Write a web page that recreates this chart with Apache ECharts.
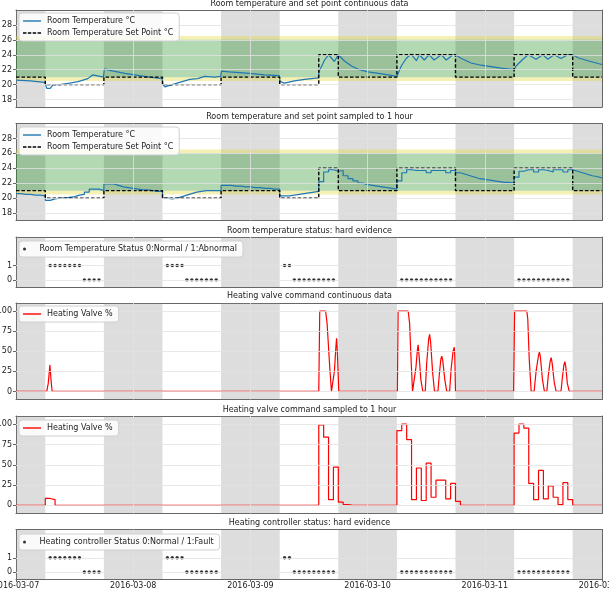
<!DOCTYPE html>
<html><head><meta charset="utf-8">
<script src="https://cdn.jsdelivr.net/npm/echarts@6/dist/echarts.min.js"></script>
<style>html,body{margin:0;padding:0;background:#fff}#c{width:609px;height:596px}</style>
</head><body><div id="c"></div>
<script>
// ---------- DATA ----------
const dayLabels = ['2016-03-07','2016-03-08','2016-03-09','2016-03-10','2016-03-11','2016-03-12'];
const dayTickHours = [0, 24, 48, 72, 96, 120];
const nightBands = [[0,6],[18,30],[42,54],[66,78],[90,102],[114,120]];
const comfortOuter = [20.5, 26.5];
const comfortInner = [21, 26];
const tempTicks = [18,20,22,24,26,28];
const valveTicks = [0,25,50,75,100];
const statusTicks = [0,1];

// continuous room temperature [hour since 2016-03-07 00:00, °C]
const roomTempContinuous = [
 [0,20.6],[2.9,20.5],[5.9,20.3],[6.3,19.5],[6.6,19.3],[7.0,19.5],[7.6,20.0],[9.0,20.0],[11.0,20.2],[12.7,20.4],
 [14.7,20.8],[15.7,21.3],[16.1,21.4],[17.2,21.1],[17.9,21.0],[18.1,22.1],[19.2,21.9],[22.3,21.5],[25.3,21.2],[27.4,21.0],
 [29.9,20.8],[30.1,20.0],[30.5,19.7],[31.5,19.9],[33.5,20.3],[35.6,20.7],[37.2,20.8],[38.6,21.1],[40.7,21.0],[41.9,21.1],
 [42.1,21.8],[43.7,21.7],[47.8,21.5],[50.9,21.3],[53.9,21.2],[54.1,20.4],[55.0,20.2],[57.0,20.5],[59.1,20.7],[61.9,20.9],
 [62.1,21.8],[63.2,23.3],[64.0,24.0],[64.4,24.0],[65.2,23.1],[66.0,24.0],[67.2,23.2],[68.7,22.5],[70.3,22.0],[72.1,21.7],
 [74.2,21.5],[76.2,21.3],[78.0,21.1],[78.9,22.5],[79.9,23.5],[80.9,24.1],[82.0,23.2],[82.6,24.0],[83.6,23.3],[84.6,24.0],
 [85.6,23.3],[87.1,24.0],[88.1,23.3],[89.5,24.0],[90.0,24.0],[91.2,23.5],[93.2,22.9],[95.2,22.6],[97.3,22.4],[99.3,22.2],
 [102.0,22.0],[102.4,22.5],[103.8,23.4],[104.9,24.0],[106.5,23.4],[107.9,24.0],[108.9,23.4],[110.2,24.0],[111.6,23.5],[113.0,24.0],
 [114.0,24.0],[115.1,23.6],[117.1,23.2],[119.4,22.8],[120,22.7]
];
// set point schedule: change hours and values
const setpointHours  = [0,6,18,30,42,54,62,66,78,90,102,114,120];
const setpointValues = [21,20,21,20,21,20,24,21,24,21,24,21,21];
// hourly room temperature (hour 0..119)
const roomTempHourly = [
 20.6,20.5,20.5,20.4,20.4,20.3,19.7,19.9,20.0,20.0,20.1,20.2,20.4,20.5,20.8,21.2,21.2,21.0,21.9,21.9,21.7,21.5,21.4,21.3,
 21.2,21.1,21.1,21.0,20.9,20.9,20.0,19.9,20.0,20.2,20.4,20.6,20.8,20.9,21.0,21.0,21.0,21.0,21.7,21.7,21.6,21.6,21.5,21.5,
 21.4,21.4,21.3,21.3,21.2,21.2,20.3,20.3,20.4,20.5,20.6,20.7,20.8,20.9,22.2,23.5,23.8,23.6,23.7,23.0,22.6,22.3,22.0,21.8,
 21.7,21.6,21.5,21.4,21.3,21.2,22.3,23.4,23.8,23.7,23.7,23.7,23.4,23.7,23.7,23.7,23.4,23.7,23.4,23.2,23.0,22.8,22.6,22.5,
 22.4,22.3,22.2,22.1,22.1,22.0,22.8,23.6,23.8,23.8,23.5,23.8,23.7,23.5,23.8,23.8,23.5,23.8,23.6,23.4,23.2,23.0,22.9,22.7
];
// status hard evidence (daytime hours)
const statusHours = [7,8,9,10,11,12,13,14,15,16,17, 31,32,33,34,35,36,37,38,39,40,41,
 55,56,57,58,59,60,61,62,63,64,65, 79,80,81,82,83,84,85,86,87,88,89, 103,104,105,106,107,108,109,110,111,112,113];
const roomStatus = [1,1,1,1,1,1,1,0,0,0,0, 1,1,1,1,0,0,0,0,0,0,0,
 1,1,0,0,0,0,0,0,0,0,0, 0,0,0,0,0,0,0,0,0,0,0, 0,0,0,0,0,0,0,0,0,0,0];
const controllerStatus = [1,1,1,1,1,1,1,0,0,0,0, 1,1,1,1,0,0,0,0,0,0,0,
 1,1,0,0,0,0,0,0,0,0,0, 0,0,0,0,0,0,0,0,0,0,0, 0,0,0,0,0,0,0,0,0,0,0];
// continuous heating valve [hour, %]
const valveContinuous = [
 [0,0],[6.3,0],[6.6,10],[6.95,33],[7.2,12],[7.4,0],
 [62.0,0],[62.2,100],[63.4,100],[63.7,85],[64.0,55],[64.3,25],[64.6,0],[64.9,0],[65.2,25],[65.5,55],[65.65,66],[65.8,50],[66.1,0],
 [78.1,0],[78.25,100],[80.3,100],[80.6,85],[80.9,40],[81.2,0],[81.6,0],[81.9,30],[82.2,52],[82.35,58],[82.6,40],[82.9,15],[83.3,0],
 [83.8,0],[84.1,35],[84.5,65],[84.7,71],[84.9,62],[85.3,25],[85.7,0],
 [86.4,0],[86.7,22],[87.0,40],[87.2,44],[87.4,38],[87.8,15],[88.2,0],
 [88.8,0],[89.1,28],[89.5,50],[89.75,55],[89.85,45],[90.0,0],
 [101.9,0],[102.1,100],[104.6,100],[104.8,90],[105.1,40],[105.5,0],
 [106.1,0],[106.5,25],[107.0,45],[107.2,49],[107.4,42],[107.8,15],[108.2,0],
 [108.7,0],[109.0,20],[109.4,38],[109.6,42],[109.8,35],[110.2,12],[110.6,0],
 [111.6,0],[111.9,18],[112.2,33],[112.4,37],[112.6,30],[112.9,10],[113.3,0],
 [120,0]
];
// hourly heating valve (hour 0..119)
const valveHourly = [
 0,0,0,0,0,0,8.5,7,0,0,0,0,0,0,0,0,0,0,0,0,0,0,0,0,
 0,0,0,0,0,0,0,0,0,0,0,0,0,0,0,0,0,0,0,0,0,0,0,0,
 0,0,0,0,0,0,0,0,0,0,0,0,0,0,99,84,7,47,4,1,0,0,0,0,
 0,0,0,0,0,0,92,100,81,7,46,6,52,10,31,31,8,27,5,0,0,0,0,0,
 0,0,0,0,0,0,89,100,95,27,7,43,8,24,10,1,28,7,0,0,0,0,0,0
];

// ---------- BUILD ----------
const FONT = '"DejaVu Sans", sans-serif';
const FRAME = '#666';
const TXT = '#222';
const stepPairs = (hours, vals) => hours.map((h, i) => [h, vals[i]]);
const hourlyPairs = vals => vals.map((v, h) => [h, v]).concat([[vals.length, vals[vals.length - 1]]]);

const panels = [
 {top: 10, height: 97, title: 'Room temperature and set point continuous data', titleY: 4, ymin: 17, ymax: 30, ticks: tempTicks, legendTop: 13, comfort: true},
 {top: 123.5, height: 97, title: 'Room temperature and set point sampled to 1 hour', titleY: 117, ymin: 17, ymax: 30, ticks: tempTicks, legendTop: 127, comfort: true},
 {top: 237, height: 50, title: 'Room temperature status: hard evidence', titleY: 230.5, ymin: -0.5, ymax: 3, ticks: statusTicks, legendTop: 241},
 {top: 303, height: 96.5, title: 'Heating valve command continuous data', titleY: 296, ymin: -10, ymax: 110, ticks: valveTicks, legendTop: 306},
 {top: 416, height: 97.5, title: 'Heating valve command sampled to 1 hour', titleY: 409.5, ymin: -10, ymax: 110, ticks: valveTicks, legendTop: 420},
 {top: 529.5, height: 49.5, title: 'Heating controller status: hard evidence', titleY: 523, ymin: -0.5, ymax: 3, ticks: statusTicks, legendTop: 534}
];

const grid = [], xAxis = [], yAxis = [], series = [], legend = [], graphic = [];
const nightColor = 'rgba(128,128,128,0.27)';
const yellowColor = 'rgba(225,215,40,0.35)';
const greenColor = 'rgba(0,128,0,0.30)';

panels.forEach((p, i) => {
  grid.push({left: 16, right: 7, top: p.top, height: p.height, containLabel: false, outerBoundsMode: 'none'});
  const last = i === panels.length - 1;
  xAxis.push({type: 'value', gridIndex: i, min: 0, max: 120, interval: 24, position: 'bottom',
    axisLine: {show: true, onZero: false, lineStyle: {color: FRAME, width: 1}},
    axisTick: {show: last, length: 3, lineStyle: {color: FRAME}},
    axisLabel: {show: last, margin: 3, fontSize: 8, fontFamily: FONT, color: TXT, hideOverlap: false,
      showMinLabel: true, showMaxLabel: true,
      formatter: v => dayLabels[dayTickHours.indexOf(v)] || ''},
    splitLine: {show: false}});
  xAxis.push({type: 'value', gridIndex: i, min: 0, max: 120, position: 'top',
    axisLine: {show: true, onZero: false, lineStyle: {color: FRAME, width: 1}},
    axisTick: {show: false}, axisLabel: {show: false}, splitLine: {show: false}});
  yAxis.push({type: 'value', gridIndex: i, min: p.ymin, max: p.ymax, position: 'left',
    axisLine: {show: true, onZero: false, lineStyle: {color: FRAME, width: 1}},
    axisTick: {show: true, length: 3, customValues: p.ticks, lineStyle: {color: FRAME}},
    axisLabel: {customValues: p.ticks, margin: 4, fontSize: 8, fontFamily: FONT, color: TXT},
    splitLine: {show: false}});
  yAxis.push({type: 'value', gridIndex: i, min: p.ymin, max: p.ymax, position: 'right',
    axisLine: {show: true, onZero: false, lineStyle: {color: FRAME, width: 1}},
    axisTick: {show: false}, axisLabel: {show: false}, splitLine: {show: false}});

  const areas = nightBands.map(b => [{xAxis: b[0], itemStyle: {color: nightColor}}, {xAxis: b[1]}]);
  if (p.comfort) {
    areas.push([{yAxis: comfortOuter[0], itemStyle: {color: yellowColor}}, {yAxis: comfortInner[0]}]);
    areas.push([{yAxis: comfortInner[1], itemStyle: {color: yellowColor}}, {yAxis: comfortOuter[1]}]);
    areas.push([{yAxis: comfortInner[0], itemStyle: {color: greenColor}}, {yAxis: comfortInner[1]}]);
  }
  const lines = p.ticks.map(v => ({yAxis: v})).concat(dayTickHours.slice(1, -1).map(h => ({xAxis: h})));
  series.push({type: 'line', name: 'bands' + i, xAxisIndex: 2 * i, yAxisIndex: 2 * i, data: [], silent: true, z: 1,
    symbol: 'none',
    markArea: {silent: true, data: areas},
    markLine: {silent: true, symbol: ['none', 'none'], label: {show: false},
      lineStyle: {color: '#e2e2e2', width: 0.8, type: 'solid'}, emphasis: {disabled: true}, data: lines}});

  graphic.push({type: 'text', x: 309.5, y: p.titleY,
    style: {text: p.title, fill: TXT, font: '8px "DejaVu Sans"', align: 'center', verticalAlign: 'middle',
      textAlign: 'center', textVerticalAlign: 'middle'}});
});

const lineBase = (i, name, data, color, extra) => Object.assign({
  type: 'line', name, xAxisIndex: 2 * i, yAxisIndex: 2 * i, data, symbol: 'none', showSymbol: false,
  z: 3, silent: true, lineStyle: {color, width: 1.2}, itemStyle: {color}}, extra || {});

const tName = 'Room Temperature °C', sName = 'Room Temperature Set Point °C', vName = 'Heating Valve %';
const rsName = 'Room Temperature Status 0:Normal / 1:Abnormal', csName = 'Heating controller Status 0:Normal / 1:Fault';
const dashed = {color: '#000', width: 1.4, type: [3.5, 2]};

series.push(lineBase(0, tName, roomTempContinuous, '#1f77b4'));
series.push(lineBase(0, sName, stepPairs(setpointHours, setpointValues), '#000', {step: 'end', z: 4, lineStyle: dashed}));
series.push(lineBase(1, tName, hourlyPairs(roomTempHourly), '#1f77b4', {step: 'end'}));
series.push(lineBase(1, sName, stepPairs(setpointHours, setpointValues), '#000', {step: 'end', z: 4, lineStyle: dashed}));
series.push({type: 'scatter', name: rsName, xAxisIndex: 4, yAxisIndex: 4, data: stepPairs(statusHours, roomStatus),
  symbol: 'circle', symbolSize: 3.4, itemStyle: {color: '#000'}, z: 3, silent: true});
series.push(lineBase(3, vName, valveContinuous, '#ff0000'));
series.push(lineBase(4, vName, hourlyPairs(valveHourly), '#ff0000', {step: 'end'}));
series.push({type: 'scatter', name: csName, xAxisIndex: 10, yAxisIndex: 10, data: stepPairs(statusHours, controllerStatus),
  symbol: 'circle', symbolSize: 3.4, itemStyle: {color: '#000'}, z: 3, silent: true});

const SOLID_ICON = 'path://M0,0h18v1.4h-18z';
const DASH_ICON = 'path://M0,0h3.4v1.4h-3.4z M4.8,0h3.4v1.4h-3.4z M9.6,0h3.4v1.4h-3.4z M14.4,0h3.4v1.4h-3.4z';
const legendBase = (top, items, dot) => ({
  left: 19, top, orient: 'vertical', data: items, itemWidth: 18, itemHeight: dot ? 3 : 8, itemGap: 4,
  padding: dot ? [4, 6, 4, 4] : [4, 6, 4, 4], backgroundColor: 'rgba(255,255,255,0.85)', borderColor: '#d0d0d0', borderWidth: 1,
  borderRadius: 3, selectedMode: false,
  textStyle: {fontSize: 8, fontFamily: FONT, color: TXT, padding: [0, 0, 0, 1]}, z: 10});
const tempLegend = [{name: tName, icon: SOLID_ICON}, {name: sName, icon: DASH_ICON}];
legend.push(legendBase(panels[0].legendTop, tempLegend));
legend.push(legendBase(panels[1].legendTop, tempLegend));
legend.push(legendBase(panels[2].legendTop, [{name: rsName, icon: 'circle'}], true));
legend.push(legendBase(panels[3].legendTop, [{name: vName, icon: SOLID_ICON}]));
legend.push(legendBase(panels[4].legendTop, [{name: vName, icon: SOLID_ICON}]));
legend.push(legendBase(panels[5].legendTop, [{name: csName, icon: 'circle'}], true));

const chart = echarts.init(document.getElementById('c'), null, {renderer: 'canvas'});
chart.setOption({animation: false, backgroundColor: '#fff', grid, xAxis, yAxis, series, legend, graphic});
</script></body></html>
